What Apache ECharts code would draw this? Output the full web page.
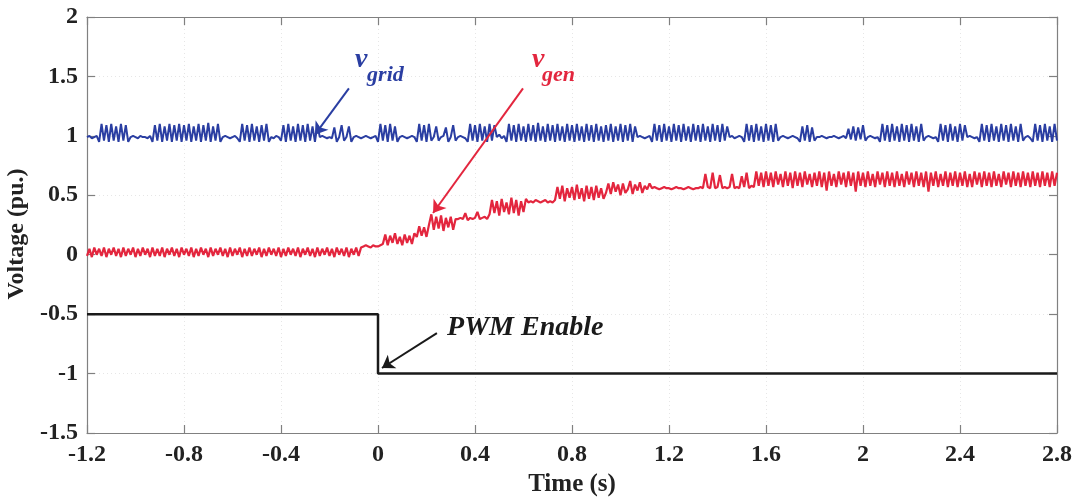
<!DOCTYPE html>
<html>
<head>
<meta charset="utf-8">
<title>Grid and generator voltage at PWM enable</title>
<script src="https://cdn.jsdelivr.net/npm/echarts@6/dist/echarts.min.js"></script>
<style>
  html, body { margin: 0; padding: 0; background: #ffffff; }
  #chart { width: 1078px; height: 497px; }
</style>
</head>
<body>
<div id="chart"></div>
<script>
// Sample clock of the recorded signals (s)
const T_START = -1.2;
const T_STEP = 0.01;

// Axis ticks
const xTickLabels = ['-1.2', '-0.8', '-0.4', '0', '0.4', '0.8', '1.2', '1.6', '2', '2.4', '2.8'];
const yTickLabels = ['-1.5', '-1', '-0.5', '0', '0.5', '1', '1.5', '2'];

// Grid voltage, pu x 100, one value per sample
const vGrid = [
  99,100,98,99,100,95,110,96,109,95,110,96,108,95,110,96,109,95,99,100,
  99,98,100,99,99,98,100,95,109,96,110,95,108,96,110,95,109,96,110,95,
  109,96,110,95,108,96,110,95,109,96,111,95,108,96,110,95,99,100,99,98,
  99,100,98,95,110,96,109,95,110,96,108,95,109,96,110,95,99,98,100,99,
  96,109,95,110,96,108,95,110,96,109,95,110,96,108,95,109,99,100,99,98,
  99,98,107,95,99,109,96,99,108,95,99,100,99,98,99,100,99,98,99,100,
  95,110,96,109,95,110,96,108,95,99,100,99,98,99,100,99,95,110,96,109,
  95,110,96,99,108,96,99,100,107,95,99,109,96,99,100,99,98,95,110,96,
  109,95,110,96,108,95,110,96,109,99,101,98,100,95,110,96,109,95,110,96,
  108,95,110,96,109,95,111,96,108,95,110,96,109,95,110,96,108,95,110,96,
  109,95,110,96,108,95,110,96,109,95,110,96,108,95,109,96,110,95,108,96,
  110,95,109,96,110,95,108,99,100,99,98,99,100,95,110,96,109,95,110,96,
  108,95,110,96,109,95,110,96,108,95,110,96,109,95,110,96,108,95,110,96,
  109,95,110,96,108,99,100,98,99,100,99,95,110,96,109,95,110,96,108,95,
  110,96,109,95,110,96,99,100,99,98,99,100,99,98,95,108,96,109,95,107,
  96,99,99,100,99,98,99,99,100,99,98,99,100,98,106,97,108,96,107,97,
  109,96,99,100,99,98,99,95,110,96,109,95,110,96,108,95,110,96,109,95,
  110,96,108,95,110,96,99,100,99,98,99,95,110,96,109,95,110,96,108,95,
  110,96,109,99,100,99,98,99,95,110,96,109,95,110,96,108,95,110,96,109,
  95,110,96,108,95,110,96,99,100,98,95,110,96,109,95,110,96,108,95,110,
  96
];

// Generator voltage, pu x 100, one value per sample
const vGen = [
  -1,5,-2,6,0,5,-1,6,-2,5,0,6,-1,5,-2,6,-1,5,0,6,
  -2,5,-1,6,0,5,-2,6,-1,5,-1,6,-2,5,0,6,-1,5,-2,6,
  0,5,-1,6,-2,5,-1,6,0,5,-2,6,-1,5,0,6,-1,5,-2,6,
  -1,5,0,6,-2,5,-1,6,-1,5,0,6,-2,5,-1,6,0,5,-1,6,
  -2,5,-1,6,0,5,-1,6,-2,5,0,6,-1,5,-2,6,-1,5,0,6,
  -1,5,-2,6,0,5,-1,6,-2,5,0,6,-1,6,7,8,7,6,8,7,
  7,8,9,17,8,16,10,18,9,15,8,17,10,16,9,18,15,24,16,23,
  15,25,34,21,32,22,33,20,31,23,32,21,30,30,31,30,35,29,31,30,
  31,36,30,31,32,30,34,46,35,45,33,47,36,44,34,48,35,46,33,45,
  36,47,44,45,44,46,45,44,45,46,44,45,44,46,57,47,58,45,56,48,
  57,46,59,47,56,45,58,47,57,46,58,48,56,47,52,60,51,61,53,59,
  50,60,52,55,62,51,59,54,61,52,58,55,60,56,57,56,55,56,57,56,
  56,55,56,57,56,56,55,56,57,56,55,56,56,57,56,68,57,56,69,56,
  57,67,56,57,56,57,68,56,57,56,66,57,69,56,58,57,70,58,69,57,
  70,58,69,57,70,59,68,57,70,58,69,56,70,58,69,57,70,59,68,57,
  69,58,70,57,69,54,70,58,68,57,70,59,69,57,70,58,69,53,70,58,
  69,57,70,58,68,57,70,59,69,57,70,58,69,57,70,58,68,57,70,59,
  69,57,70,58,69,57,70,53,69,58,70,57,68,58,70,57,69,58,70,57,
  69,58,70,57,68,57,70,59,69,57,70,58,69,57,70,58,68,57,70,59,
  69,57,70,58,69,57,70,58,69,57,70,58,69,57,70,58,69,57,70,58,
  69
];

// PWM enable flag trace (breakpoints)
const pwmTime = [-1.2, 0, 0, 2.8];
const pwmLevel = [-0.5, -0.5, -1, -1];

const BLUE = '#2a3ea2';
const RED = '#e3263e';
const BLACK = '#1a1a1a';
const FRAME = '#808080';
const SERIF = '"Liberation Serif", "DejaVu Serif", serif';

const toSeries = arr => arr.map((v, i) => [T_START + i * T_STEP, v / 100]);
const gridData = toSeries(vGrid);
const genData = toSeries(vGen);
const pwmData = pwmTime.map((t, i) => [t, pwmLevel[i]]);

const X_MIN = -1.2, X_MAX = 2.8, X_STEP = 0.4;
const Y_MIN = -1.5, Y_MAX = 2, Y_STEP = 0.5;

const tickFont = { color: '#222', fontFamily: SERIF, fontWeight: 'bold', fontSize: 24 };

function frameAxis(extra) {
  return Object.assign({
    type: 'value',
    axisLine: { show: true, onZero: false, lineStyle: { color: FRAME, width: 1.2 } },
    axisTick: { show: true, inside: true, length: 8, lineStyle: { color: FRAME, width: 1.2 } },
    axisLabel: { show: false },
    splitLine: { show: false }
  }, extra);
}

function annotationText(coord, text, color, size) {
  return {
    coord: coord,
    label: {
      show: true, formatter: text, position: [0, 0], align: 'left', verticalAlign: 'middle',
      color: color, fontFamily: SERIF, fontWeight: 'bold', fontStyle: 'italic', fontSize: size
    }
  };
}

function arrow(from, to, color) {
  return {
    silent: true,
    animation: false,
    symbol: ['none', 'arrow'],
    symbolSize: 12,
    label: { show: false },
    lineStyle: { color: color, width: 2, type: 'solid' },
    itemStyle: { color: color },
    data: [[
      { coord: from, symbol: 'none' },
      { coord: to, symbol: 'arrow', symbolSize: 12 }
    ]]
  };
}

const chart = echarts.init(document.getElementById('chart'), null, { renderer: 'canvas' });

chart.setOption({
  animation: false,
  backgroundColor: '#ffffff',
  grid: { left: 87, right: 21, top: 17, bottom: 64, containLabel: false, outerBoundsMode: 'none' },
  xAxis: [
    {
      type: 'value', min: X_MIN, max: X_MAX, interval: X_STEP,
      name: 'Time (s)', nameLocation: 'middle', nameGap: 34,
      nameTextStyle: { color: '#222', fontFamily: SERIF, fontWeight: 'bold', fontSize: 25 },
      axisLine: { show: true, onZero: false, lineStyle: { color: FRAME, width: 1.2 } },
      axisTick: { show: true, inside: true, length: 8, lineStyle: { color: FRAME, width: 1.2 } },
      axisLabel: Object.assign({ margin: 10,
        formatter: v => xTickLabels[Math.round((v - X_MIN) / X_STEP)] }, tickFont),
      splitLine: { show: true, lineStyle: { color: '#e6e6e6', type: [1, 3], width: 1 } }
    },
    frameAxis({ position: 'top', min: X_MIN, max: X_MAX, interval: X_STEP })
  ],
  yAxis: [
    {
      type: 'value', min: Y_MIN, max: Y_MAX, interval: Y_STEP,
      name: 'Voltage (pu.)', nameLocation: 'middle', nameGap: 56, nameRotate: 90,
      nameTextStyle: { color: '#222', fontFamily: SERIF, fontWeight: 'bold', fontSize: 24,
        padding: [0, 18, 0, 0] },
      axisLine: { show: true, onZero: false, lineStyle: { color: FRAME, width: 1.2 } },
      axisTick: { show: true, inside: true, length: 8, lineStyle: { color: FRAME, width: 1.2 } },
      axisLabel: Object.assign({ margin: 9,
        formatter: v => yTickLabels[Math.round((v - Y_MIN) / Y_STEP)] }, tickFont),
      splitLine: { show: true, lineStyle: { color: '#e6e6e6', type: [1, 3], width: 1 } }
    },
    frameAxis({ position: 'right', min: Y_MIN, max: Y_MAX, interval: Y_STEP })
  ],
  series: [
    {
      name: 'v_grid', type: 'line', data: gridData, showSymbol: false, clip: true,
      lineStyle: { color: BLUE, width: 2 }, itemStyle: { color: BLUE },
      markLine: arrow([-0.12, 1.40], [-0.26, 1.01], BLUE),
      markPoint: {
        silent: true, symbol: 'circle', symbolSize: 0, animation: false,
        data: [
          annotationText([-0.095, 1.64], 'v', BLUE, 28),
          annotationText([-0.045, 1.51], 'grid', BLUE, 22)
        ]
      }
    },
    {
      name: 'v_gen', type: 'line', data: genData, showSymbol: false, clip: true,
      lineStyle: { color: RED, width: 2.2 }, itemStyle: { color: RED },
      markLine: arrow([0.598, 1.40], [0.227, 0.351], RED),
      markPoint: {
        silent: true, symbol: 'circle', symbolSize: 0, animation: false,
        data: [
          annotationText([0.635, 1.64], 'v', RED, 28),
          annotationText([0.676, 1.51], 'gen', RED, 22)
        ]
      }
    },
    {
      name: 'PWM Enable', type: 'line', data: pwmData, showSymbol: false, clip: true,
      lineStyle: { color: BLACK, width: 2.5 }, itemStyle: { color: BLACK },
      markLine: arrow([0.243, -0.659], [0.0165, -0.953], BLACK),
      markPoint: {
        silent: true, symbol: 'circle', symbolSize: 0, animation: false,
        data: [annotationText([0.285, -0.617], 'PWM Enable', BLACK, 28)]
      }
    }
  ]
});
</script>
</body>
</html>
